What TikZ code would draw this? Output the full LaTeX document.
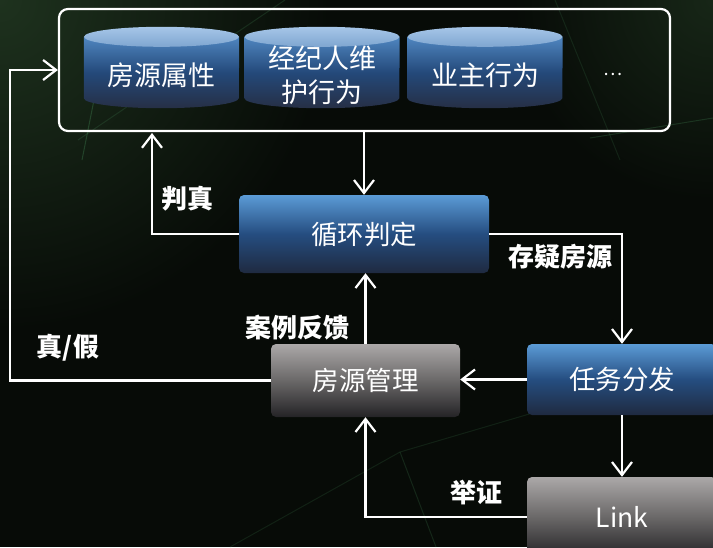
\documentclass[tikz,border=0pt]{standalone}
\usepackage{fontspec}
\setmainfont{Noto Sans CJK SC}
\usetikzlibrary{arrows.meta,calc}
\definecolor{bg}{HTML}{070B07}
\definecolor{bgl}{HTML}{1E321E}
\definecolor{deco}{HTML}{3C7A4C}
\definecolor{cylTop}{HTML}{A6C6E8}
\definecolor{cylTopB}{HTML}{7FA6D0}
\definecolor{cylA}{HTML}{4F86C0}
\definecolor{cylB}{HTML}{24497A}
\definecolor{cylC}{HTML}{262F45}
\definecolor{blA}{HTML}{5B9BD6}
\definecolor{blB}{HTML}{254D80}
\definecolor{blC}{HTML}{1F2A40}
\definecolor{grA}{HTML}{ABA8A8}
\definecolor{grB}{HTML}{6A6868}
\definecolor{grC}{HTML}{242326}
\tikzset{
  arr/.style={draw=white, line width=2.2pt, -{Straight Barb[length=13pt,width=20pt]}},
  cylbox/.style={minimum width=155pt, minimum height=81pt, inner sep=0pt},
  cyltxt/.style={text=white, font=\fontsize{27pt}{34pt}\selectfont, align=center},
  bluebox/.style={rounded corners=5pt, top color=blA, bottom color=blC, middle color=blB,
    text=white, font=\fontsize{26.5pt}{30pt}\selectfont, inner sep=0pt},
  graybox/.style={rounded corners=5pt, top color=grA, bottom color=grC, middle color=grB,
    text=white, font=\fontsize{26.5pt}{30pt}\selectfont, inner sep=0pt},
  lbl/.style={text=white, font=\bfseries\fontsize{26pt}{30pt}\selectfont, inner sep=0pt},
}
\newcommand{\drawcyl}[1]{%
  \shade[top color=cylA, bottom color=cylC, middle color=cylB]
    ([yshift=-10pt]#1.north west) -- ([yshift=10pt]#1.south west)
    arc[start angle=180, end angle=360, x radius=77.5pt, y radius=10pt]
    -- ([yshift=-10pt]#1.north east) -- cycle;
  \shade[top color=cylTop, bottom color=cylTopB]
    ([yshift=-10pt]#1.north) ellipse [x radius=77.5pt, y radius=10pt];
}
\begin{document}
\begin{tikzpicture}[x=1pt,y=-1pt]
\useasboundingbox (0,0) rectangle (713,547);
% background
\fill[bg] (0,0) rectangle (713,547);
\begin{scope}
  \clip (0,0) rectangle (713,547);
  \shade[inner color=bgl, outer color=bg] (0,0) circle (330pt);
  \shade[inner color=bgl!70!bg, outer color=bg] (713,0) circle (200pt);
  \draw[deco, opacity=0.25, line width=1pt] (285,0) -- (78,140);
  \draw[deco, opacity=0.4, line width=1pt] (95,95) -- (82,160);
  \draw[deco, opacity=0.3, line width=1pt] (590,138) -- (713,118);
  \draw[deco, opacity=0.2, line width=1pt] (555,0) -- (620,160);
  \draw[deco, opacity=0.25, line width=1pt] (400,452) -- (436,547);
  \draw[deco, opacity=0.2, line width=1pt] (400,452) -- (230,547);
  \draw[deco, opacity=0.2, line width=1pt] (400,452) -- (713,360);
\end{scope}
% frame
\node[draw=white, line width=2.2pt, rounded corners=9pt, minimum width=611pt,
  minimum height=122pt, inner sep=0pt] (frame) at (364.5,70) {};
% cylinders
\node[cylbox] (c1) at (161.5,67.5) {};
\node[cylbox] (c2) at (322,67.5) {};
\node[cylbox] (c3) at (485,67.5) {};
\drawcyl{c1}
\drawcyl{c2}
\drawcyl{c3}
\node[cyltxt] (t1) at (161.5,75) {房源属性};
\node[cyltxt] (t2) at (322,75) {经纪人维\\护行为};
\node[cyltxt] (t3) at (485,75) {业主行为};
\node[text=white, font=\fontsize{18pt}{20pt}\selectfont] (dots) at (613,74) {…};
% boxes
\node[bluebox, minimum width=250pt, minimum height=78pt] (loop) at (364,234) {循环判定};
\node[graybox, minimum width=189pt, minimum height=73pt] (mgmt) at (365.5,380.5) {房源管理};
\node[bluebox, minimum width=190pt, minimum height=71pt] (task) at (622,379.5) {任务分发};
\node[graybox, minimum width=190pt, minimum height=80pt] (link) at (622,517) {Link};
% connectors
\coordinate (jz) at (152,133);
\coordinate (tl) at (10,70);
\draw[arr] (loop.north |- frame.south) -- (loop.north);
\draw[arr] (loop.west) -| (jz);
\draw[arr] (loop.east) -| (task.north);
\draw[arr] (task.west) -- (task.west -| mgmt.east);
\draw[arr] (task.south) -- (link.north);
\draw[arr] (link.west) -| (mgmt.south);
\draw[arr] (mgmt.north) -- (mgmt.north |- loop.south);
\draw[arr] (mgmt.west) -| (tl) -- (tl -| frame.west);
% labels
\node[lbl] (l1) at (187,199) {判真};
\node[lbl] (l2) at (560,257) {存疑房源};
\node[lbl] (l3) at (297,328) {案例反馈};
\node[lbl] (l4) at (68,348) {真/假};
\node[lbl] (l5) at (476,493) {举证};
\end{tikzpicture}
\end{document}
